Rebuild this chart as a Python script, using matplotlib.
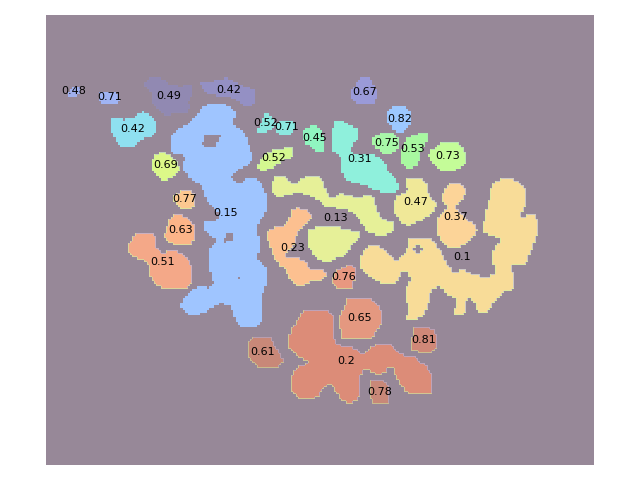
import numpy as np
import matplotlib
matplotlib.use("Agg")
import matplotlib.pyplot as plt
from matplotlib.path import Path

# axis extents of the image, in picture pixels
x_range = (46, 594)
y_range = (465, 15)
cell = 2.4
background = "#978898"

scores = ["0.48", "0.71", "0.49", "0.42", "0.42", "0.15", "0.69", "0.77", "0.63", "0.51",
          "0.52", "0.71", "0.52", "0.45", "0.31", "0.67", "0.82", "0.75", "0.53", "0.73",
          "0.13", "0.47", "0.37", "0.1", "0.23", "0.76", "0.65", "0.61", "0.2", "0.78", "0.81"]
colors = ["#A0B0EE", "#A0B4F4", "#9189B2", "#9490C4", "#8FE0F0", "#9FC5FF", "#DCF888", "#FCC890", "#FCB488", "#F4A888",
          "#8CE8E0", "#8CE8E0", "#D4F890", "#90F5C0", "#8FF0DC", "#9A9AD8", "#9CC8FF", "#A8F8A8", "#A8F8A0", "#C4FC98",
          "#E6F098", "#F0E898", "#FCD498", "#F8DC98", "#FCC090", "#E89880", "#E49880", "#C88878", "#DC8C78", "#C88878", "#D08878"]
label_x = [74, 110, 169, 229, 133, 226, 166, 185, 181, 163,
           266, 287, 274, 315, 360, 365, 400, 387, 413, 448,
           336, 416, 456, 462, 293, 344, 360, 263, 346, 380, 424]
label_y = [91, 97, 96, 90, 129, 213, 165, 199, 230, 262,
           123, 127, 158, 138, 159, 92, 119, 143, 149, 156,
           218, 202, 217, 257, 248, 277, 318, 352, 361, 392, 340]

outline_048 = [(68,92),(72,90),(76,86),(79,87),(79,93),(75,97),(68,97)]
outline_071a = [(99,93),(113,92),(117,95),(120,103),(102,103),(99,98)]
outline_049 = [(145,85),(150,77),(161,78),(166,84),(178,87),(192,85),(192,92),(188,97),(189,112),(176,113),(163,115),(158,107),(152,102),(154,92),(146,88)]
outline_042a = [(198,83),(209,83),(218,81),(228,78),(234,83),(243,87),(254,90),(256,100),(251,106),(241,104),(236,97),(219,95),(208,93),(203,88)]
outline_042b = [(111,119),(126,120),(136,118),(143,112),(152,117),(157,125),(154,136),(141,138),(134,146),(123,147),(115,142),(114,131),(110,128)]
outline_015 = [(198,115),(206,105),(219,103),(231,108),(236,113),(229,127),(239,128),(246,138),(248,148),(252,157),(250,163),(239,168),(229,175),(233,182),(243,187),(244,180),(256,178),(263,190),(267,197),(267,210),(259,220),(254,230),(259,240),(259,250),(254,257),(260,263),(267,267),(267,280),(262,290),(260,307),(263,317),(258,325),(248,328),(238,323),(233,313),(232,305),(215,302),(208,310),(193,315),(183,310),(181,303),(188,295),(200,287),(213,289),(213,277),(209,267),(210,247),(220,242),(223,242),(209,235),(204,230),(204,222),(221,221),(218,210),(209,203),(204,192),(203,185),(189,177),(183,168),(184,164),(188,155),(174,154),(170,143),(174,132),(193,122)]
hole_015a = [(204,135),(221,136),(214,148),(204,147),(203,143)]
hole_015b = [(226,233),(232,233),(232,240),(224,242)]
hole_015c = [(237,276),(240,276),(240,280),(237,280)]
outline_069 = [(158,153),(164,152),(171,158),(181,167),(174,177),(163,180),(158,175),(153,170),(151,160)]
outline_077 = [(176,192),(191,191),(196,198),(193,210),(183,208),(174,203),(173,198)]
outline_063 = [(173,214),(181,214),(189,222),(195,225),(194,233),(193,245),(176,245),(164,238),(169,223)]
outline_051 = [(135,233),(152,233),(157,242),(157,252),(178,251),(188,260),(193,270),(193,282),(183,289),(163,289),(150,277),(148,260),(133,257),(127,248),(133,242)]
outline_052a = [(264,113),(269,114),(271,120),(278,125),(268,129),(259,134),(257,128),(264,122)]
outline_071b = [(280,121),(293,121),(295,128),(289,136),(280,134),(276,127)]
outline_052b = [(267,152),(282,150),(292,147),(293,157),(283,159),(272,168),(259,171),(258,165)]
outline_045 = [(305,128),(315,126),(322,130),(323,140),(326,153),(318,152),(310,145),(303,138)]
outline_031 = [(337,119),(347,125),(358,129),(358,137),(352,145),(346,150),(349,153),(370,154),(385,162),(387,173),(398,183),(399,190),(390,193),(377,190),(363,183),(347,180),(342,170),(341,152),(332,151),(331,137),(334,125)]
outline_067 = [(362,78),(369,78),(376,93),(375,104),(358,105),(350,98),(353,88)]
outline_082 = [(395,106),(405,106),(411,113),(411,125),(400,133),(392,128),(388,120),(388,112)]
outline_075 = [(378,134),(393,133),(398,138),(398,148),(387,155),(378,150),(373,145),(373,138)]
outline_053 = [(407,138),(427,133),(427,140),(420,150),(421,158),(412,169),(403,165),(401,155),(405,145)]
outline_073 = [(442,143),(453,141),(463,147),(466,158),(462,167),(447,172),(437,167),(427,155),(433,150)]
outline_013a = [(273,175),(285,177),(293,187),(308,175),(322,178),(325,192),(333,203),(339,193),(350,197),(373,196),(376,210),(382,220),(393,222),(393,232),(382,235),(367,232),(368,230),(362,222),(353,210),(335,207),(323,205),(318,198),(302,192),(290,193),(278,197),(270,188),(275,185)]
outline_013b = [(307,230),(333,225),(348,231),(365,230),(352,243),(348,253),(323,263),(309,248)]
outline_047 = [(405,177),(420,177),(429,185),(427,195),(437,202),(433,212),(420,220),(407,226),(398,217),(393,207),(398,195),(412,193),(405,183)]
outline_037 = [(447,185),(460,183),(467,194),(458,202),(454,208),(465,218),(477,227),(475,235),(460,247),(447,247),(438,233),(438,218),(447,212),(450,207),(442,202),(445,190)]
outline_01 = [(408,238),(432,239),(440,252),(453,275),(463,270),(478,277),(495,277),(498,270),(492,260),(493,250),(502,242),(507,242),(500,238),(483,232),(485,220),(489,205),(490,193),(493,183),(507,178),(520,183),(527,193),(527,203),(515,220),(523,220),(534,212),(538,230),(533,245),(525,264),(515,263),(503,258),(510,267),(514,277),(515,288),(502,292),(492,303),(488,313),(477,312),(476,298),(463,298),(465,307),(466,313),(455,316),(453,311),(460,306),(460,298),(448,295),(443,285),(432,285),(428,303),(423,317),(408,320),(405,318),(412,312),(407,300),(407,288),(412,285),(412,272),(402,270),(397,282),(385,285),(375,278),(365,273),(361,265),(363,250),(372,245),(380,247),(393,260),(400,265),(400,259),(408,252)]
hole_01 = [(414,249),(418,245),(422,249),(418,253)]
outline_023 = [(293,208),(305,209),(312,215),(310,220),(297,230),(295,245),(287,250),(280,260),(293,258),(305,260),(308,272),(323,268),(327,273),(322,282),(307,280),(302,287),(292,282),(287,270),(277,262),(272,250),(267,233),(268,230),(288,225)]
outline_076 = [(342,267),(353,265),(355,273),(352,288),(337,289),(333,283),(332,277)]
outline_065 = [(347,298),(360,297),(372,300),(380,308),(382,322),(375,332),(373,340),(340,340),(341,327),(338,319),(345,310)]
outline_061 = [(258,336),(270,336),(275,348),(283,360),(280,367),(272,365),(263,369),(253,363),(248,355),(247,343)]
outline_02 = [(305,309),(327,311),(335,317),(333,342),(338,346),(353,346),(363,357),(375,345),(390,344),(400,356),(413,357),(428,368),(433,380),(433,393),(410,395),(400,383),(395,373),(395,358),(388,367),(380,375),(367,368),(360,372),(360,392),(357,402),(347,403),(337,393),(333,383),(325,385),(317,397),(305,400),(293,393),(290,380),(297,367),(318,364),(318,362),(297,357),(288,343),(293,327),(302,315)]
outline_078 = [(370,380),(383,379),(390,390),(388,403),(373,405),(371,393)]
outline_081 = [(414,327),(428,327),(437,335),(437,348),(428,353),(410,350),(413,337)]

outlines = [[outline_048], [outline_071a], [outline_049], [outline_042a], [outline_042b],
            [outline_015], [outline_069], [outline_077], [outline_063], [outline_051],
            [outline_052a], [outline_071b], [outline_052b], [outline_045], [outline_031],
            [outline_067], [outline_082], [outline_075], [outline_053], [outline_073],
            [outline_013a, outline_013b], [outline_047], [outline_037], [outline_01],
            [outline_023], [outline_076], [outline_065], [outline_061], [outline_02],
            [outline_078], [outline_081]]
holes = [hole_015a, hole_015b, hole_015c, hole_01]


def soften(mask):
    """Round a region's corners with two 3x3 box blurs and a low threshold."""
    m = mask.astype(float)
    for _ in range(2):
        m = sum(np.roll(np.roll(m, dy, 0), dx, 1) for dy in (-1, 0, 1) for dx in (-1, 0, 1)) / 9
    return m > 0.36


# rasterise to a coarse label grid, so the regions keep their stepped edges
nx = int((x_range[1] - x_range[0]) / cell)
ny = int((y_range[0] - y_range[1]) / cell)
xs = x_range[0] + (np.arange(nx) + 0.5) * cell
ys = y_range[1] + (np.arange(ny) + 0.5) * cell
gx, gy = np.meshgrid(xs, ys)
pts = np.c_[gx.ravel(), gy.ravel()]
labels = np.zeros(gx.shape, dtype=int)
for i, parts in enumerate(outlines, start=1):
    mask = np.zeros(gx.shape, dtype=bool)
    for part in parts:
        mask |= Path(part).contains_points(pts).reshape(gx.shape)
    labels[soften(mask)] = i
for h in holes:
    labels[Path(h).contains_points(pts).reshape(gx.shape)] = 0

# upscale and add the thin pale rim seen around the warmer regions
W, H = x_range[1] - x_range[0], y_range[0] - y_range[1]
ix = np.minimum(((np.arange(W) + 0.5) / cell).astype(int), nx - 1)
iy = np.minimum(((np.arange(H) + 0.5) / cell).astype(int), ny - 1)
fine = labels[np.ix_(iy, ix)]
palette = np.array([matplotlib.colors.to_rgb(c) for c in [background] + colors])
rgb = palette[fine].copy()
warm = palette[:, 0] - palette[:, 2] + 0.15
rim_weight = np.clip(warm, 0.0, 0.55)[fine][..., None]
fg = fine > 0
west = fg & (np.roll(fine, 1, axis=1) == 0)
south = fg & (np.roll(fine, -1, axis=0) == 0)
north = fg & (np.roll(fine, 1, axis=0) == 0)
east = fg & (np.roll(fine, -1, axis=1) == 0)
green = np.array(matplotlib.colors.to_rgb("#C8F8A8"))
blue = np.array(matplotlib.colors.to_rgb("#A8B8F0"))
blue_rim = north | east
green_rim = west | south
rgb_blue = rgb * (1 - rim_weight) + blue * rim_weight
rgb_green = rgb * (1 - rim_weight) + green * rim_weight
rgb[blue_rim] = rgb_blue[blue_rim]
rgb[green_rim] = rgb_green[green_rim]

fig = plt.figure(figsize=(6.4, 4.8), dpi=100)
ax = fig.add_axes([46 / 640, 1 - 465 / 480, 548 / 640, 450 / 480])
ax.imshow(rgb, extent=(x_range[0], x_range[1], y_range[0], y_range[1]),
          interpolation="nearest", aspect="auto")
ax.set_xlim(*x_range)
ax.set_ylim(*y_range)
ax.axis("off")
for s, x, y in zip(scores, label_x, label_y):
    ax.text(x, y, s, ha="center", va="center", fontsize=8, color="black")
fig.savefig("out.png", dpi=100)
